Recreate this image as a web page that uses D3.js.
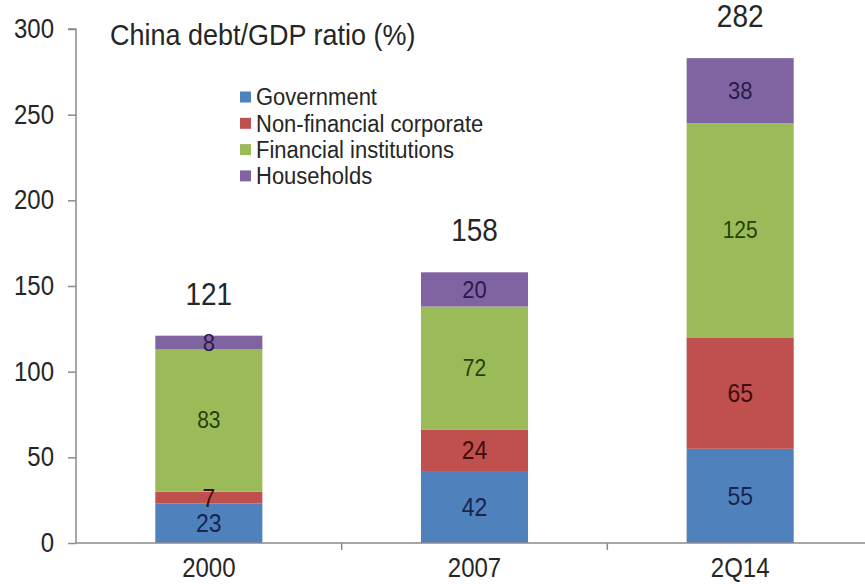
<!DOCTYPE html>
<html>
<head>
<meta charset="utf-8">
<script src="https://cdn.jsdelivr.net/npm/d3@7"></script>
<style>
  html, body { margin: 0; padding: 0; background: #fff; }
  svg { display: block; font-family: Arial, "Liberation Sans", Helvetica, sans-serif; }
</style>
</head>
<body>
<svg id="chart" width="865" height="584"></svg>
<script>
// ---- data ----
const categories = ["2000", "2007", "2Q14"];
const seriesNames = ["Government", "Non-financial corporate", "Financial institutions", "Households"];
const government = [23, 42, 55];
const nonFinancialCorporate = [7, 24, 65];
const financialInstitutions = [83, 72, 125];
const households = [8, 20, 38];
const totals = [121, 158, 282];
const yTicks = [0, 50, 100, 150, 200, 250, 300];
const chartTitle = "China debt/GDP ratio (%)";

// ---- styles ----
const colors = ["#4f81bd", "#c0504d", "#9bbb59", "#8064a2"];
const labelColors = ["#16264e", "#3f0d0d", "#26400c", "#2a1a4a"];
const labelSizes = [23, 23, 21, 22];
const axisColor = "#8a8a8a";
const textColor = "#262626";
const stretch = 1.12; // vertical stretch of text seen in the reference

const svg = d3.select("#chart");
const W = 865, H = 584;
const pLeft = 76, pRight = 873, pTop = 29, pBottom = 543;

const x = d3.scaleBand().domain(categories).range([pLeft, pRight]).paddingInner(0).paddingOuter(0);
const y = d3.scaleLinear().domain([0, 300]).range([pBottom, pTop]);
const barW = x.bandwidth() * 0.403;

// helper: text placed at (tx, ty) with vertical stretch
function place(sel, fx, fy) {
  sel.attr("transform", (d, i) => `translate(${fx(d, i)},${fy(d, i)}) scale(1,${stretch})`);
}

// build stacked data
const rows = categories.map((c, i) => ({
  cat: c,
  [seriesNames[0]]: government[i],
  [seriesNames[1]]: nonFinancialCorporate[i],
  [seriesNames[2]]: financialInstitutions[i],
  [seriesNames[3]]: households[i]
}));
const stacked = d3.stack().keys(seriesNames)(rows);

// bars
const layers = svg.append("g").selectAll("g.layer")
  .data(stacked).join("g")
  .attr("class", "layer")
  .attr("fill", (d, i) => colors[i]);

layers.selectAll("rect")
  .data(d => d)
  .join("rect")
  .attr("x", d => x(d.data.cat) + x.bandwidth() / 2 - barW / 2)
  .attr("y", d => y(d[1]))
  .attr("width", barW)
  .attr("height", d => y(d[0]) - y(d[1]));

// segment labels
stacked.forEach((layer, li) => {
  svg.append("g").selectAll("text")
    .data(layer).join("text")
    .call(place, d => x(d.data.cat) + x.bandwidth() / 2, d => (y(d[0]) + y(d[1])) / 2)
    .attr("text-anchor", "middle")
    .attr("dominant-baseline", "central")
    .attr("font-size", labelSizes[li])
    .attr("fill", labelColors[li])
    .text(d => d[1] - d[0]);
});

// totals
svg.append("g").selectAll("text")
  .data(categories).join("text")
  .call(place, c => x(c) + x.bandwidth() / 2, (c, i) => y(d3.sum(seriesNames, k => rows[i][k])) - 31)
  .attr("text-anchor", "middle")
  .attr("font-size", 28)
  .attr("fill", textColor)
  .text((c, i) => totals[i]);

// y axis
const yAxis = svg.append("g")
  .attr("transform", `translate(${pLeft},0)`)
  .call(d3.axisLeft(y).tickValues(yTicks).tickSize(8).tickPadding(14));
yAxis.select(".domain").attr("stroke", axisColor).attr("stroke-width", 1.5).attr("d", `M-8,${pTop}H0V${pBottom}`);
yAxis.selectAll(".tick line").attr("stroke", axisColor).attr("stroke-width", 1.5);
yAxis.selectAll(".tick text").attr("font-size", 24).attr("fill", textColor)
  .attr("font-family", "Arial, 'Liberation Sans', sans-serif")
  .attr("transform", `scale(1,${stretch})`);

// x axis
const xAxis = svg.append("g")
  .attr("transform", `translate(0,${pBottom})`)
  .call(d3.axisBottom(x).tickSize(0).tickPadding(13));
xAxis.select(".domain").attr("stroke", axisColor).attr("stroke-width", 1.5).attr("d", `M${pLeft},0H${W}`);
xAxis.selectAll(".tick text").attr("font-size", 24).attr("fill", textColor)
  .attr("font-family", "Arial, 'Liberation Sans', sans-serif")
  .attr("transform", `scale(1,${stretch})`);
// boundary ticks between categories
xAxis.append("g").selectAll("line")
  .data(categories.slice(1)).join("line")
  .attr("x1", c => x(c)).attr("x2", c => x(c))
  .attr("y1", 0).attr("y2", 7)
  .attr("stroke", axisColor).attr("stroke-width", 1.5);

// title
svg.append("text")
  .datum(chartTitle)
  .call(place, () => 110, () => 45)
  .attr("font-size", 27)
  .attr("fill", textColor)
  .text(d => d);

// legend
const legend = svg.append("g").attr("transform", "translate(240,97)");
const items = legend.selectAll("g").data(seriesNames).join("g")
  .attr("transform", (d, i) => `translate(0,${i * 26.3})`);
items.append("rect").attr("x", 0).attr("y", -5.5).attr("width", 11).attr("height", 11)
  .attr("fill", (d, i) => colors[i]);
items.append("text")
  .call(place, () => 16, () => 0)
  .attr("dominant-baseline", "central")
  .attr("font-size", 22).attr("fill", textColor)
  .text(d => d);
</script>
</body>
</html>
